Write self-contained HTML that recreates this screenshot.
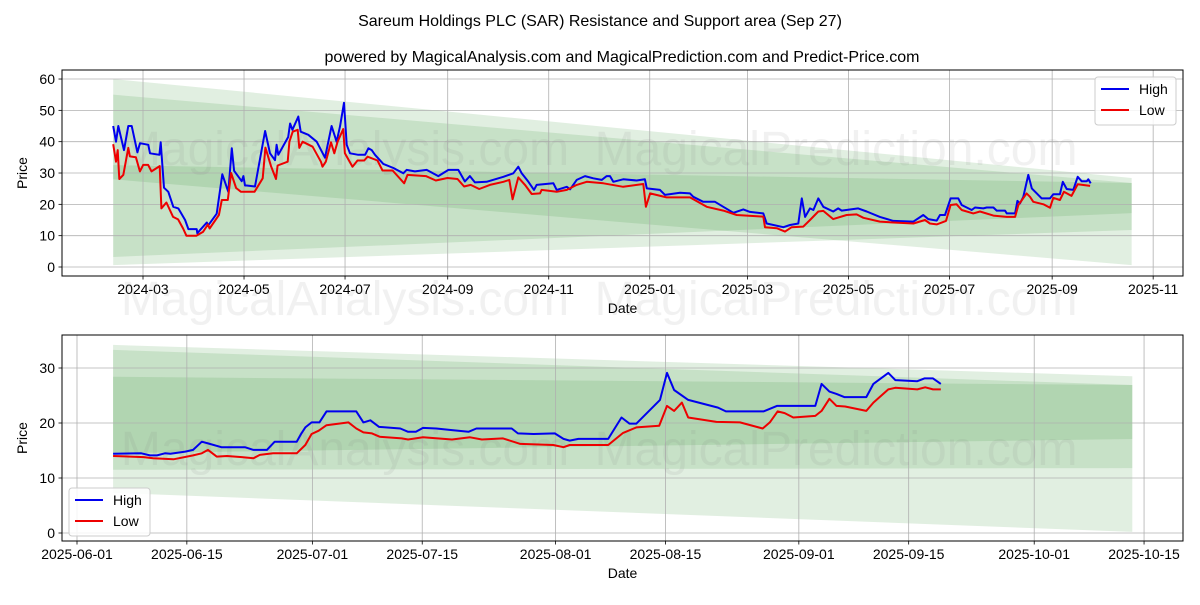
<!DOCTYPE html>
<html><head><meta charset="utf-8"><style>
body{margin:0;background:#fff;}
svg text{font-family:"Liberation Sans","DejaVu Sans",sans-serif;}
</style></head><body>
<svg id="chart" width="1200" height="600" viewBox="0 0 1200 600" xmlns="http://www.w3.org/2000/svg">
<rect width="1200" height="600" fill="#fff"/>
<text x="600" y="26" font-size="16" text-anchor="middle">Sareum Holdings PLC (SAR) Resistance and Support area (Sep 27)</text>
<text x="622" y="62" font-size="16" text-anchor="middle">powered by MagicalAnalysis.com and MagicalPrediction.com and Predict-Price.com</text>
<g id="top"></g>
<g id="bottom"></g>
</svg>
<script>
// ---- top chart data (day offsets from 2024-02-12) ----
const topHighDays=[0,1.7,3.1,6.5,9.1,11.2,14.6,16.2,21.2,22.2,27.9,28.7,30.7,33.3,36.3,39.3,43.4,45.4,50.4,50.8,56.5,57.4,62.5,65.9,69.5,71.6,73,77.6,78.6,79.6,80.6,85.6,91.7,94.7,97.7,98.7,99.7,105.7,106.8,108.2,111.8,113.2,117.8,122.9,127.9,131.9,134.9,137,139.4,141,143,148,152.1,154.1,156.1,158.1,163.1,169.2,175.2,177.2,182.2,189.3,196.3,202.4,208.4,212.4,215.4,218.4,225.5,235.6,241.6,244.6,246.7,250.7,254.1,255.7,265.8,267.8,273.9,275.9,279.9,284.9,289.9,295,298,300,302,308,316.1,321.1,322.2,330.2,333.2,342.3,348.3,350.3,356.3,363.4,368.4,374.5,380.5,384.5,392.6,394.6,404.7,408.7,413.7,415.8,417.8,420.8,422.8,425.8,428.8,434.8,437.8,439.9,449.9,455,463,471.1,483.2,489.2,492.2,497.3,499.3,502.3,505.7,510.3,512.4,518.4,520.4,525.4,527.5,531.5,533.5,538.5,539.6,544.6,546,547.6,549.6,552.6,554.7,557.7,560.7,565.7,567.7,571.7,573.4,575.8,579.8,582.4,584.8,587.9,588.8,590.3];
const topHighVals=[45,40,45,37.3,45,45,36.6,39.5,39,36.3,35.8,39.8,25.3,24,19.2,18.7,15,12.1,12.1,10.8,14.2,13.3,17,29.6,24,37.9,30.7,27.4,29,26,26,25.7,43.4,36.3,34.1,39,35.8,41.5,45.8,43.8,48,43.2,42.2,40,34.9,45,40,45,52.4,39,36.3,35.8,35.8,37.9,37.3,35.8,32.9,31.6,29.9,31,30.5,31,29,31,31,27.3,29,27,27.2,28.8,29.9,32,29.9,27.2,24.6,26.2,26.7,24.6,25.6,24.8,27.8,29,28.3,27.8,29,29,27.2,28,27.6,28,25.1,24.6,23,23.7,23.5,22.4,20.8,20.8,19.2,17.3,18.4,17.6,17.1,13.9,12.7,13.4,13.9,21.9,16,18.7,18.2,21.9,19.2,17.7,18.7,18,18.7,17.7,16,14.7,14.5,16.6,15.3,14.8,16.6,16.6,21.9,21.9,19.8,18.2,19,18.7,19,19,18,18,17.1,17.1,21.1,20.3,22.4,29.4,25.1,23.5,21.9,21.9,23.2,23.2,27.2,24.9,24.6,28.8,27.4,27.4,28,26.7];
const topLowDays=[0,1.7,2.7,3.7,6.1,9.1,10.1,13.7,16.1,18.1,21.1,23.1,28.1,29.1,32.1,36.2,39.2,42.2,44.2,50.2,54.2,57.2,58.2,63.8,65.6,69.2,71.2,74.2,77.2,85.3,90.3,91.9,95.3,98.3,99.3,105.4,106.4,108.4,111.4,112.4,114.4,120.4,125.4,126.4,128.4,131.5,133.5,135.5,138.9,139.9,144.5,147.5,151.6,153.6,159.6,162.6,168.7,175.7,177.7,188.8,194.8,201.8,207.9,211.9,215.9,221,227.5,235.6,239.2,241.2,244.6,248.7,252.7,257.7,258.7,267.8,273.9,279.9,285.9,296,308,320.1,321.7,324.2,334.2,348.3,358.4,368.4,376.5,392.6,393.6,400.7,405.7,409.7,416.7,420.8,425.8,428.8,434.8,442.9,448.9,453,463,471.1,483.2,490.2,493.2,497.3,502.9,505.7,509.3,512.4,519.4,523.4,531.5,539.6,544.6,546.6,551.6,553.6,555.6,561.7,565.7,567.7,571.7,574.1,578.7,582.4,589.9];
const topLowVals=[39.2,33.6,37.3,28.1,29.4,38,35.3,35,30.5,32.6,32.6,30.5,32.2,18.7,20.6,16,15.2,12.3,10,10,11.2,13.6,12.3,16.6,21.4,21.4,30,25.2,24,24,28.3,38.1,32.2,28.1,32.4,33.6,40,43.2,43.8,38,40,38.4,33.6,32,33.6,39.8,36.3,40,44,36.3,32,34,34,35.2,34,30.8,30.8,26.7,29.4,29,27.6,28.4,28.1,25.7,26.2,24.9,26.2,27.2,27.8,21.6,28.6,26.2,23.3,23.5,24.6,24,24.6,26.2,27.2,26.7,25.6,26.5,19.2,23.5,22.2,22.2,19.2,18,16.6,16.1,12.7,12.4,11.3,12.7,12.9,15,17.7,17.9,15.3,16.6,16.8,15.7,14.5,14.2,13.9,15,13.9,13.6,14.7,19.8,20,18.2,17.1,17.7,16.4,16,16,19.8,23.5,22.4,20.8,20,18.9,22.1,21.4,24,22.7,26.4,25.9];
const topYTicks=[0,10,20,30,40,50,60];
const topXTickLabels=["2024-03","2024-05","2024-07","2024-09","2024-11","2025-01","2025-03","2025-05","2025-07","2025-09","2025-11"];
const topXTickDays=[18,79,140,202,263,324,383,444,505,567,628];
// bands: [top at start, top at end, bottom at start, bottom at end]
const topBandA=[60,28.4,0.6,11.8];
const topBandB=[55,26.8,3.2,17.2];
const topBandC=[32.5,26.8,28,0.6];
const topBandDays=[0,615];

// ---- bottom chart data (day offsets from 2025-06-01) ----
const botHighDays=[4.6,8.2,9.3,10.2,11.2,11.9,13.8,14.8,15.9,16.7,18.4,21.4,22.5,24.2,25.2,28,28.6,29.1,29.9,30.9,31.8,35.6,36.5,37.4,38.5,41.2,42.2,43.2,44.1,45.8,47.8,49.9,50.9,55.4,56.2,58.2,60.9,62,62.8,63.9,67.7,69.4,70.4,71.3,74.3,75.2,76.1,77.9,81.7,82.7,87.5,89.2,94.1,94.9,95.9,96.8,97.8,100.6,101.5,103.4,104.3,107.1,108,109.1,110.1];
const botHighVals=[14.4,14.5,14.1,14.1,14.5,14.4,14.8,15.1,16.6,16.3,15.6,15.6,15.1,15.1,16.6,16.6,18.1,19.2,20.1,20.1,22.1,22.1,20.1,20.5,19.3,19,18.4,18.4,19.1,19,18.7,18.4,19,19,18.1,18,18.1,17.1,16.8,17.1,17.1,21,19.9,19.9,24.2,29.1,26,24.2,22.8,22.1,22.1,23.1,23.1,27.1,25.7,25.3,24.7,24.7,27.1,29.1,27.8,27.6,28.1,28.1,27.1];
const botLowDays=[4.6,8.5,9.7,12.3,14.8,15.9,16.7,17.8,19.1,21,22.5,23.3,25,28,29.1,29.9,30.8,31.8,34.6,35.6,36.5,37.6,38.6,41.4,42.2,44.1,47.8,50.1,51.6,54.3,56.5,60.7,62,62.8,67.7,69.6,71.3,74.2,75.2,76.1,77.1,77.9,81.5,84.5,87.4,88.3,89.3,90.2,91.3,94.1,94.9,95.9,96.8,97.9,100.6,101.5,103.4,104.3,107.1,108.1,109.1,110.1];
const botLowVals=[14,13.8,13.6,13.4,14.1,14.5,15.1,13.9,14,13.8,13.6,14.2,14.5,14.5,16,18,18.6,19.6,20.1,19,18.3,18.1,17.5,17.2,17,17.4,17,17.4,17,17.2,16.2,16,15.6,16,16,18.2,19.2,19.5,23.1,22.2,23.7,21,20.2,20.1,19,20.1,22.1,21.8,21,21.3,22.2,24.4,23.1,23,22.2,23.7,26.1,26.4,26.1,26.5,26.1,26.1];
const botYTicks=[0,10,20,30];
const botXTickLabels=["2025-06-01","2025-06-15","2025-07-01","2025-07-15","2025-08-01","2025-08-15","2025-09-01","2025-09-15","2025-10-01","2025-10-15"];
const botXTickDays=[0,14,30,44,61,75,92,106,122,136];
const botBandA=[34.2,28.5,11.5,11.8];
const botBandB=[33.3,26.9,14.5,17.1];
const botBandC=[28.4,26.9,7.3,0.2];
const botBandDays=[4.6,134.5];

const NS="http://www.w3.org/2000/svg";
function mk(parent,tag,attrs){const e=document.createElementNS(NS,tag);for(const k in attrs)e.setAttribute(k,attrs[k]);parent.appendChild(e);return e;}

function watermark(parent,y){
  const a=mk(parent,'text',{x:345,y:y,'font-size':48,'text-anchor':'middle',fill:'#808080','fill-opacity':'0.11'});
  a.textContent='MagicalAnalysis.com';
  
  
  const b=mk(parent,'text',{x:836,y:y,'font-size':48,'text-anchor':'middle',fill:'#808080','fill-opacity':'0.11'});
  b.textContent='MagicalPrediction.com';
  
  
}

function drawPanel(g,cfg){
  const L=62,R=1183,T=cfg.top,B=cfg.bottom;
  const sx=d=>cfg.x0+(d-cfg.d0)*cfg.pxPerDay;
  const sy=v=>cfg.y0-v*cfg.pxPerUnit;
  const bands=[cfg.bandA,cfg.bandB,cfg.bandC];
  const bandNames=['band-outer','band-middle','band-inner'];
  bands.forEach((b,i)=>{
    const x1=sx(cfg.bandDays[0]),x2=sx(cfg.bandDays[1]);
    const p=mk(g,'polygon',{points:`${x1},${sy(b[0])} ${x2},${sy(b[1])} ${x2},${sy(b[3])} ${x1},${sy(b[2])}`,fill:'#2e8b2e','fill-opacity':'0.14'});
    
    
  });
  cfg.yTicks.forEach(v=>{
    const y=sy(v);
    const ln=mk(g,'line',{x1:L,x2:R,y1:y,y2:y,stroke:'#b0b0b0','stroke-width':0.8});
    
    
    mk(g,'line',{x1:L-3.5,x2:L,y1:y,y2:y,stroke:'#000','stroke-width':0.8});
    const t=mk(g,'text',{x:L-7,y:y+5,'font-size':14,'text-anchor':'end'});t.textContent=v;
    
    
  });
  cfg.xTickDays.forEach((d,i)=>{
    const x=sx(d);
    const ln=mk(g,'line',{x1:x,x2:x,y1:T,y2:B,stroke:'#b0b0b0','stroke-width':0.8});
    
    
    mk(g,'line',{x1:x,x2:x,y1:B,y2:B+3.5,stroke:'#000','stroke-width':0.8});
    const t=mk(g,'text',{x:x,y:B+18,'font-size':14,'text-anchor':'middle'});t.textContent=cfg.xTickLabels[i];
    
    
  });
  watermark(g,cfg.wmY);
  const line=(days,vals,color,name)=>{
    const pts=days.map((d,i)=>sx(d).toFixed(1)+','+sy(vals[i]).toFixed(1)).join(' ');
    const pl=mk(g,'polyline',{points:pts,fill:'none',stroke:color,'stroke-width':2,'stroke-linejoin':'round'});
    
    
  };
  line(cfg.hd,cfg.hv,'#0000ee','high-line');
  line(cfg.ld,cfg.lv,'#ee0000','low-line');
  const fr=mk(g,'rect',{x:L,y:T,width:R-L,height:B-T,fill:'none',stroke:'#000','stroke-width':1});
  
  
  const xl=mk(g,'text',{x:(L+R)/2,y:B+37,'font-size':14,'text-anchor':'middle'});xl.textContent='Date';
  
  
  const yl=mk(g,'text',{x:0,y:0,'font-size':14,'text-anchor':'middle',transform:`translate(27,${(T+B)/2}) rotate(-90)`});yl.textContent='Price';
  
  
  const lg=mk(g,'g',{});
  
  
  const lx=cfg.legX,ly=cfg.legY;
  mk(lg,'rect',{x:lx,y:ly,width:81,height:48,rx:3,fill:'#fff','fill-opacity':0.85,stroke:'#ccc','stroke-width':1});
  [['High','#0000ee'],['Low','#ee0000']].forEach((e,i)=>{
    const eg=mk(lg,'g',{});
    
    
    const yy=ly+12+i*21;
    mk(eg,'line',{x1:lx+6,x2:lx+34,y1:yy,y2:yy,stroke:e[1],'stroke-width':2});
    const t=mk(eg,'text',{x:lx+44,y:yy+5,'font-size':14});t.textContent=e[0];
  });
}

drawPanel(document.getElementById('top'),{top:70,bottom:276,x0:113.2,d0:0,pxPerDay:1.656,y0:267,pxPerUnit:3.133,
  bandA:topBandA,bandB:topBandB,bandC:topBandC,bandDays:topBandDays,yTicks:topYTicks,xTickDays:topXTickDays,xTickLabels:topXTickLabels,
  hd:topHighDays,hv:topHighVals,ld:topLowDays,lv:topLowVals,legX:1095,legY:77,wmY:165});
drawPanel(document.getElementById('bottom'),{top:335,bottom:541,x0:77,d0:0,pxPerDay:7.846,y0:533,pxPerUnit:5.5,
  bandA:botBandA,bandB:botBandB,bandC:botBandC,bandDays:botBandDays,yTicks:botYTicks,xTickDays:botXTickDays,xTickLabels:botXTickLabels,
  hd:botHighDays,hv:botHighVals,ld:botLowDays,lv:botLowVals,legX:69,legY:488,wmY:465});
watermark(document.getElementById('chart'),315);
</script>
</body></html>
